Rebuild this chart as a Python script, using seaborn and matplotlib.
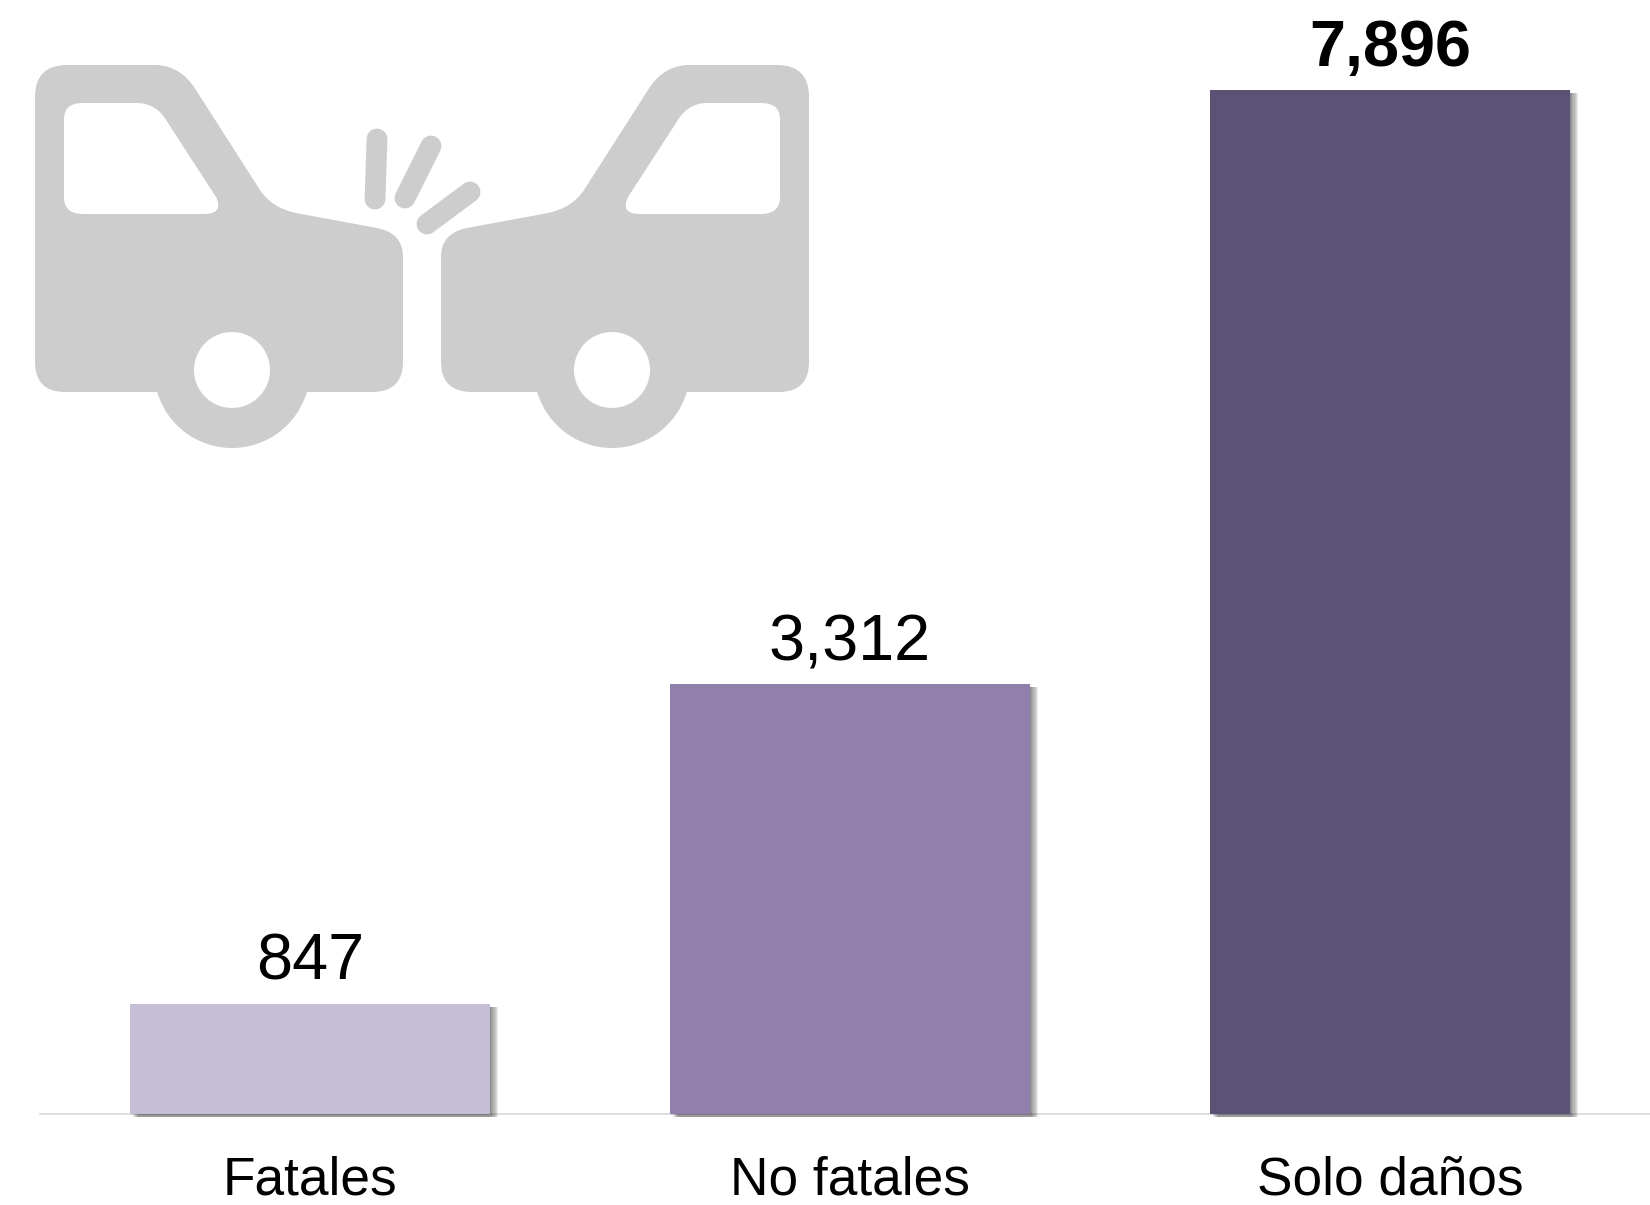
import matplotlib
matplotlib.use('Agg')
import matplotlib.pyplot as plt
import matplotlib.patheffects as pe
from matplotlib.path import Path
from matplotlib.patches import PathPatch
import numpy as np
import seaborn as sns

# Chart data
categories = ['Fatales', 'No fatales', 'Solo daños']
values = [847, 3312, 7896]
bar_colors = ['#C6BDD6', '#9180AB', '#5B5276']

sns.set_style('white')
plt.rcParams['font.family'] = ['Liberation Sans', 'DejaVu Sans']

fig = plt.figure(figsize=(16.5, 12.05), dpi=100)
ax = fig.add_axes([40 / 1650, 91 / 1205, 1620 / 1650, 1114 / 1205])

sns.barplot(x=categories, y=values, hue=categories, palette=bar_colors,
            width=0.666, saturation=1, linewidth=0, legend=False, ax=ax)
ax.set_xlim(-0.5, 2.5)
ax.set_ylim(0, 8590)

# Soft shadow at the right and bottom of each bar
shadow = [pe.SimplePatchShadow(offset=(o, -min(o, 2.0)), shadow_rgbFace='black', alpha=0.08)
          for o in (5.8, 5.0, 4.2, 3.4, 2.6, 1.8, 1.0)]
for bar in ax.patches:
    bar.set_clip_on(False)
    bar.set_path_effects(shadow + [pe.Normal()])

# Value labels
for i, v in enumerate(values):
    ax.annotate(f'{v:,}', (i, v), xytext=(0, 17.6), textcoords='offset points',
                ha='center', va='baseline', fontsize=46.6, color='black',
                fontweight='bold' if v == max(values) else 'normal')

sns.despine(ax=ax, left=True)
ax.spines['bottom'].set_color('#D9D9D9')
ax.spines['bottom'].set_linewidth(1.2)
ax.spines['bottom'].set_zorder(0.5)
ax.set_yticks([])
ax.tick_params(axis='x', length=0, pad=30, labelsize=38.3, labelcolor='black')


# Crash icon, drawn in image pixels on an overlay
def car_path():
    M, L, Q = Path.MOVETO, Path.LINETO, Path.CURVE3
    outer = [((35, 97), M), ((35, 65), Q), ((67, 65), Q), ((158, 65), L),
             ((182, 67), Q), ((196, 90), Q), ((260, 190), L),
             ((272, 208), Q), ((296, 213), Q), ((377, 228), L),
             ((403, 233), Q), ((403, 257), Q), ((403, 362), L),
             ((403, 392), Q), ((372, 392), Q), ((307, 392), L)]
    theta = np.linspace(np.deg2rad(16.4), np.deg2rad(163.6), 40)
    arc = [((232 + 78 * np.cos(t), 370 + 78 * np.sin(t)), L) for t in theta[1:]]
    closing = [((65, 392), L), ((35, 392), Q), ((35, 362), Q), ((35, 97), L)]
    # window runs the other way round so it stays a hole
    window = [((64, 119), M), ((64, 197), L), ((64, 214), Q), ((83, 214), Q),
              ((204, 214), L), ((224, 214), Q), ((216, 197), Q),
              ((168, 123), L), ((157, 103), Q), ((137, 103), Q),
              ((83, 103), L), ((64, 103), Q), ((64, 119), Q)]
    t = np.linspace(0, -2 * np.pi, 60)
    hole = [((232 + 38 * np.cos(a), 370 + 38 * np.sin(a)), M if j == 0 else L)
            for j, a in enumerate(t)]
    pts = outer + arc + closing + window + hole
    return np.array([p[0] for p in pts], dtype=float), [p[1] for p in pts]


over = fig.add_axes([0, 0, 1, 1])
over.set_xlim(0, 1650)
over.set_ylim(1205, 0)
over.axis('off')
over.patch.set_alpha(0)

icon_color = '#CDCDCD'
xy, codes = car_path()
over.add_patch(PathPatch(Path(xy, codes), facecolor=icon_color, edgecolor='none'))
mirrored = xy.copy()
mirrored[:, 0] = 844 - mirrored[:, 0]
over.add_patch(PathPatch(Path(mirrored, codes), facecolor=icon_color, edgecolor='none'))

for x0, y0, x1, y1 in [(377, 139, 375, 199), (431, 146, 405, 198), (470, 192, 427, 224)]:
    over.plot([x0, x1], [y0, y1], color=icon_color, lw=15, solid_capstyle='round')

fig.savefig('out.png', dpi=100)
